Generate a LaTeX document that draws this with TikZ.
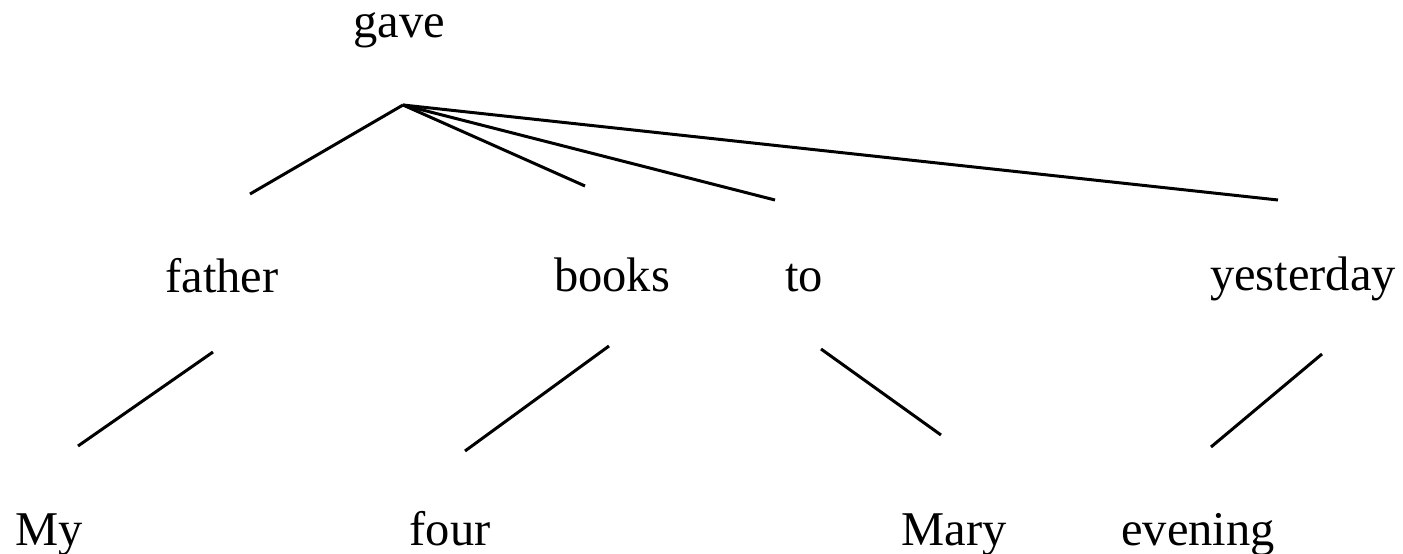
\documentclass[tikz,border=0pt]{standalone}
\usepackage{fontspec}
\setmainfont{Liberation Serif}
\begin{document}
\begin{tikzpicture}[x=1pt,y=-1pt,
  word/.style={anchor=base,inner sep=0pt,font=\fontsize{48.5}{56}\selectfont},
  edge/.style={line width=3pt}]
\useasboundingbox (0,0) rectangle (1403,554);
% words
\node[word] (gave) at (399,37) {gave};
\node[word] (father) at (222,292) {father};
\node[word] (books) at (612,291) {books};
\node[word] (to) at (804,291) {to};
\node[word] (yesterday) at (1303,290) {yesterday};
\node[word] (my) at (49,545) {My};
\node[word] (four) at (450,545) {four};
\node[word] (mary) at (954,545) {Mary};
\node[word] (evening) at (1198,545) {evening};
% branch ends
\coordinate (root) at (403,105);
\coordinate (fatherTop) at (250,194);
\coordinate (booksTop) at (585,186);
\coordinate (toTop) at (775,200);
\coordinate (yesterdayTop) at (1278,200);
\coordinate (fatherBot) at (213,352);
\coordinate (myTop) at (78,446);
\coordinate (booksBot) at (609,346);
\coordinate (fourTop) at (465,451);
\coordinate (toBot) at (821,349);
\coordinate (maryTop) at (941,435);
\coordinate (yesterdayBot) at (1322,354);
\coordinate (eveningTop) at (1211,447);
% connectors
\draw[edge] (root) -- (fatherTop);
\draw[edge] (root) -- (booksTop);
\draw[edge] (root) -- (toTop);
\draw[edge] (root) -- (yesterdayTop);
\draw[edge] (fatherBot) -- (myTop);
\draw[edge] (booksBot) -- (fourTop);
\draw[edge] (toBot) -- (maryTop);
\draw[edge] (yesterdayBot) -- (eveningTop);
\end{tikzpicture}
\end{document}
